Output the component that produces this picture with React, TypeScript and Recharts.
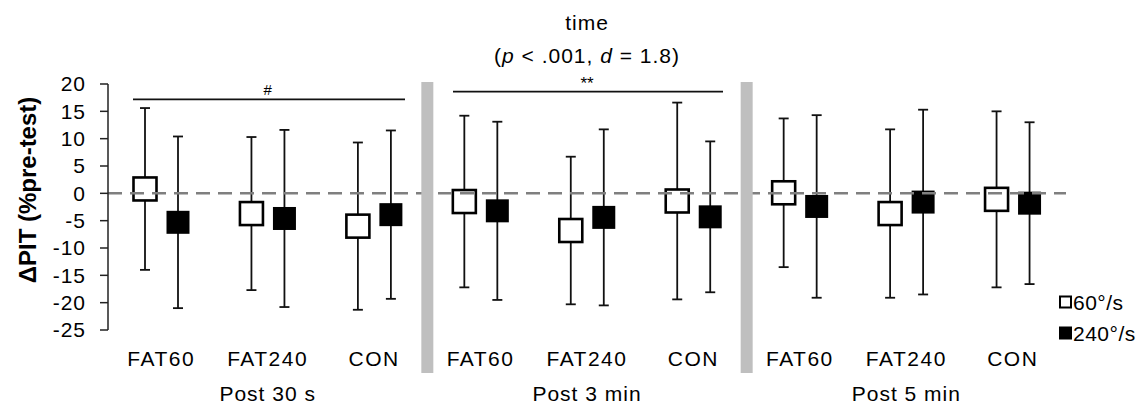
import React from "react"
import { ComposedChart, Bar, XAxis, YAxis, ReferenceLine } from "recharts"

const timepoints = ["Post 30 s", "Post 3 min", "Post 5 min"]
const conditions = ["FAT60", "FAT240", "CON"]

// mean and SD of ΔPIT, one value per condition per time point
const mean60 = [0.8, -3.7, -6.0, -1.5, -6.8, -1.4, 0.1, -3.7, -1.1]
const sd60 = [14.8, 14.0, 15.3, 15.7, 13.5, 18.0, 13.6, 15.4, 16.1]
const mean240 = [-5.3, -4.6, -3.9, -3.2, -4.4, -4.3, -2.4, -1.6, -1.8]
const sd240 = [15.7, 16.2, 15.4, 16.3, 16.1, 13.8, 16.7, 16.9, 14.8]

const yTicks = [-25, -20, -15, -10, -5, 0, 5, 10, 15, 20]
const legendItems = [
  { label: "60°/s", filled: false },
  { label: "240°/s", filled: true },
]

const W = 1144
const H = 406
const M = { top: 84, right: 78, bottom: 0, left: 38 }
const Y_AXIS_W = 70
const PLOT_LEFT = M.left + Y_AXIS_W
const PLOT_RIGHT = W - M.right
const FONT = "'Liberation Sans', Arial, sans-serif"

const rows = timepoints.flatMap((tp, t) =>
  conditions.map((c, k) => {
    const i = t * 3 + k
    return {
      key: `${tp}|${c}`,
      cond: c,
      time: tp,
      r60: [mean60[i] - sd60[i], mean60[i] + sd60[i]],
      r240: [mean240[i] - sd240[i], mean240[i] + sd240[i]],
    }
  })
)

const makeMarker = (filled: boolean) => (props: any) => {
  const { x, y, width, height } = props
  if (x == null || y == null) return null
  const cx = x + width / 2
  const top = Math.min(y, y + height)
  const bottom = Math.max(y, y + height)
  const cy = (top + bottom) / 2
  const s = 23
  return (
    <g>
      <line x1={cx} x2={cx} y1={top} y2={bottom} stroke="#111" strokeWidth={1.8} />
      <line x1={cx - 5} x2={cx + 5} y1={top} y2={top} stroke="#111" strokeWidth={1.8} />
      <line x1={cx - 5} x2={cx + 5} y1={bottom} y2={bottom} stroke="#111" strokeWidth={1.8} />
      <rect
        x={cx - s / 2}
        y={cy - s / 2}
        width={s}
        height={s}
        fill={filled ? "#000" : "#fff"}
        stroke="#000"
        strokeWidth={filled ? 0 : 2.6}
      />
    </g>
  )
}

const CatTick = ({ x, y, payload, index }: any) => {
  const row = rows.find((r) => r.key === payload.value)
  if (!row) return null
  return (
    <g>
      <text x={x} y={y + 20} textAnchor="middle" dominantBaseline="central" fontSize={21} letterSpacing={1.5} fill="#000" fontFamily={FONT}>
        {row.cond}
      </text>
      {index % 3 === 1 && (
        <text x={x} y={y + 55} textAnchor="middle" dominantBaseline="central" fontSize={21} letterSpacing={1} fill="#000" fontFamily={FONT}>
          {row.time}
        </text>
      )}
    </g>
  )
}

export default function App() {
  const band = (PLOT_RIGHT - PLOT_LEFT) / rows.length
  const seps = [3, 6].map((n) => PLOT_LEFT + band * n)
  const groupMid = (g: number) => PLOT_LEFT + band * (g * 3 + 1.5)

  return (
    <div style={{ position: "absolute", left: 0, top: 0, width: W, height: H, background: "#fff" }}>
      <ComposedChart width={W} height={H} data={rows} margin={M} barSize={24} barGap={9}>
        <XAxis
          dataKey="key"
          axisLine={false}
          tickLine={false}
          height={76}
          interval={0}
          tick={<CatTick />}
        />
        <YAxis
          domain={[-25, 20]}
          ticks={yTicks}
          interval={0}
          width={Y_AXIS_W}
          tickSize={8}
          tickMargin={14}
          axisLine={{ stroke: "#222", strokeWidth: 1.5 }}
          tickLine={{ stroke: "#222", strokeWidth: 1.5 }}
          tick={{ fontSize: 21, fill: "#000", fontFamily: FONT, letterSpacing: 1 }}
        />
        <ReferenceLine y={0} stroke="#7f7f7f" strokeWidth={2.5} strokeDasharray="14 8" />
        <Bar dataKey="r60" name="60°/s" isAnimationActive={false} shape={makeMarker(false)} fill="#fff" />
        <Bar dataKey="r240" name="240°/s" isAnimationActive={false} shape={makeMarker(true)} fill="#000" />
      </ComposedChart>
      <svg width={W} height={H} style={{ position: "absolute", left: 0, top: 0, pointerEvents: "none" }}>
        {seps.map((sx) => (
          <rect key={sx} x={sx - 6} y={82} width={12} height={291} fill="#bfbfbf" />
        ))}
        <text x={groupMid(1)} y={22} textAnchor="middle" dominantBaseline="central" fontSize={21} letterSpacing={1} fontFamily={FONT} fill="#000">
          time
        </text>
        <text x={groupMid(1)} y={55} textAnchor="middle" dominantBaseline="central" fontSize={21} letterSpacing={1} fontFamily={FONT} fill="#000">
          (<tspan fontStyle="italic">p</tspan> {"< .001, "}
          <tspan fontStyle="italic">d</tspan> = 1.8)
        </text>
        <line x1={133} x2={405} y1={99.3} y2={99.3} stroke="#111" strokeWidth={1.8} />
        <text x={groupMid(0)} y={89} textAnchor="middle" dominantBaseline="central" fontSize={15} fontFamily={FONT} fill="#000">
          #
        </text>
        <line x1={453} x2={723} y1={91.7} y2={91.7} stroke="#111" strokeWidth={1.8} />
        <text x={groupMid(1)} y={83} textAnchor="middle" dominantBaseline="central" fontSize={17} fontFamily={FONT} fill="#000">
          **
        </text>
        <text
          transform={`translate(27, 190) rotate(-90)`}
          textAnchor="middle"
          dominantBaseline="central"
          fontSize={24}
          fontWeight="bold"
          fontFamily={FONT}
          fill="#000"
        >
          ΔPIT (%pre-test)
        </text>
        {legendItems.map((it, i) => (
          <g key={it.label} transform={`translate(1059, ${302 + i * 31})`}>
            <rect
              x={it.filled ? 0 : 1}
              y={it.filled ? -6.5 : -5.5}
              width={it.filled ? 13 : 11}
              height={it.filled ? 13 : 11}
              fill={it.filled ? "#000" : "#fff"}
              stroke="#000"
              strokeWidth={it.filled ? 0 : 2}
            />
            <text x={14} y={0} dominantBaseline="central" fontSize={21} letterSpacing={0.5} fontFamily={FONT} fill="#000">
              {it.label}
            </text>
          </g>
        ))}
      </svg>
    </div>
  )
}
